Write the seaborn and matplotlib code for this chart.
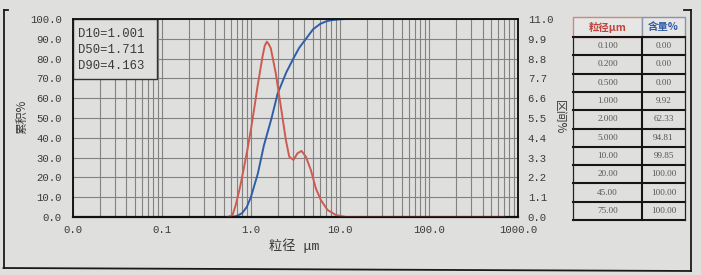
import numpy as np
import pandas as pd
import matplotlib
matplotlib.use("Agg")
import matplotlib.pyplot as plt
import seaborn as sns
from matplotlib.ticker import FixedLocator, LogLocator, NullFormatter, FixedFormatter
from matplotlib.lines import Line2D

# ---------------- data ----------------
cum_sizes = [0.04, 0.6, 0.7, 0.8, 0.9, 1.0, 1.2, 1.4, 1.711, 2.0, 2.5, 3.0, 3.5,
             4.163, 5.0, 6.0, 7.0, 8.0, 10.0, 12.0, 20.0, 700.0]
cum_pct = [0, 0, 0.5, 2.0, 5.0, 9.92, 22, 36, 50, 62.33, 73, 80, 85.5,
           90, 94.81, 97.5, 98.8, 99.4, 99.85, 100, 100, 100]

int_sizes = [0.55, 0.622, 0.678, 0.76, 0.841, 0.92, 1.0, 1.09, 1.188, 1.27, 1.352,
             1.43, 1.513, 1.59, 1.677, 1.907, 2.174, 2.474, 2.70, 3.01, 3.34, 3.71,
             4.15, 4.72, 5.37, 6.12, 7.27, 9.0, 11.7, 700.0]
int_pct = [0, 0.1, 0.67, 1.7, 2.79, 3.8, 4.83, 6.0, 7.24, 8.1, 8.9,
           9.5, 9.74, 9.6, 9.37, 7.98, 6.13, 4.28, 3.35, 3.17, 3.54, 3.67,
           3.35, 2.61, 1.59, 0.94, 0.39, 0.11, 0, 0]

x_ticks = [0.01, 0.1, 1, 10, 100, 1000]
x_labels = ["0.0", "0.1", "1.0", "10.0", "100.0", "1000.0"]
left_ticks = [0, 10, 20, 30, 40, 50, 60, 70, 80, 90, 100]
right_ticks = [0, 1.1, 2.2, 3.3, 4.4, 5.5, 6.6, 7.7, 8.8, 9.9, 11.0]

d_text = ["D10=1.001", "D50=1.711", "D90=4.163"]

table_sizes = ["0.100", "0.200", "0.500", "1.000", "2.000", "5.000",
               "10.00", "20.00", "45.00", "75.00"]
table_pct = ["0.00", "0.00", "0.00", "9.92", "62.33", "94.81",
             "99.85", "100.00", "100.00", "100.00"]
table_head = ["粒径μm", "含量%"]

# ---------------- style ----------------
BG = "#dfdfdd"
GRID = "#828282"
TXT = "#3a3a3a"
RED = "#cf5a50"
BLUE = "#2f5ea8"

plt.rcParams["font.family"] = ["Liberation Mono", "Noto Sans CJK SC", "DejaVu Sans"]

cum_df = pd.DataFrame({"size": cum_sizes, "pct": cum_pct})
int_df = pd.DataFrame({"size": int_sizes, "pct": int_pct})

fig = plt.figure(figsize=(7.01, 2.75), dpi=100, facecolor=BG)
W, H = 701, 275
L, R, B, T = 72.7, 518.0, 217.0, 19.0
ax = fig.add_axes([L / W, 1 - B / H, (R - L) / W, (B - T) / H])
ax.set_facecolor(BG)
ax2 = ax.twinx()

# cumulative (left axis)
sns.lineplot(data=cum_df, x="size", y="pct", ax=ax, color=BLUE, lw=1.4,
             estimator=None, sort=False)
# interval (right axis)
sns.lineplot(data=int_df, x="size", y="pct", ax=ax2, color=RED, lw=1.4,
             estimator=None, sort=False)

ax.set_xscale("log")
ax.set_xlim(0.01, 1000)
ax.set_ylim(0, 100)
ax2.set_ylim(0, 11)

ax.xaxis.set_major_locator(FixedLocator(x_ticks))
ax.xaxis.set_major_formatter(FixedFormatter(x_labels))
ax.xaxis.set_minor_locator(LogLocator(base=10, subs=np.arange(2, 10)))
ax.xaxis.set_minor_formatter(NullFormatter())
ax.yaxis.set_major_locator(FixedLocator(left_ticks))
ax.set_yticklabels([f"{v:.1f}" for v in left_ticks])
ax2.yaxis.set_major_locator(FixedLocator(right_ticks))
ax2.set_yticklabels([f"{v:.1f}" for v in right_ticks])

ax.grid(which="both", axis="x", color=GRID, lw=0.8)
ax.grid(which="major", axis="y", color=GRID, lw=0.8)
ax.set_axisbelow(True)

for a in (ax, ax2):
    a.tick_params(which="both", length=0, labelsize=7.7, colors=TXT)
    for s in a.spines.values():
        s.set_color("#111111")
        s.set_linewidth(1.1)
ax.tick_params(axis="x", pad=6)
ax.tick_params(axis="y", pad=8)
ax2.tick_params(axis="y", pad=7)
ax.spines["bottom"].set_linewidth(1.6)

ax.set_xlabel("粒径 μm", family=["Liberation Mono", "Noto Sans CJK SC"], fontsize=9.5, color=TXT)
ax.xaxis.set_label_coords(0.497, -0.11)
ax.set_ylabel("")
ax2.set_ylabel("")
fig.text(22 / W, 1 - 117 / H, "累积%", family=["Noto Sans CJK SC"], fontsize=8.5,
         color=TXT, rotation=90, ha="center", va="center")
fig.text(559 / W, 1 - 117 / H, "区间%", family=["Noto Sans CJK SC"], fontsize=8.5,
         color=TXT, rotation=270, ha="center", va="center")

# D-value box
ax.add_patch(plt.Rectangle((0, 0.697), 0.189, 0.303, transform=ax.transAxes,
                           fc=BG, ec="#333333", lw=1.0, zorder=9))
ax.text(0.012, 0.955, "\n".join(d_text), transform=ax.transAxes, fontsize=8.8,
        color=TXT, va="top", ha="left", linespacing=1.45, zorder=10)

# ---------------- overlay: table and frame ----------------
ov = fig.add_axes([0, 0, 1, 1], facecolor="none")
ov.set_xlim(0, W)
ov.set_ylim(H, 0)
ov.axis("off")

tl, tm, tr = 573.0, 642.0, 685.0
ttop, thead = 17.0, 37.0
rh = 18.3
nrows = len(table_sizes)
tbot = thead + rh * nrows

ov.add_patch(plt.Rectangle((tl, ttop), tm - tl, thead - ttop, fc="#e6e6e4", ec="#c98a84", lw=1.0))
ov.add_patch(plt.Rectangle((tm, ttop), tr - tm, thead - ttop, fc="#e6e6e4", ec="#8b93a8", lw=1.0))
ov.text((tl + tm) / 2, (ttop + thead) / 2, table_head[0], color="#c0443c", fontsize=7.5,
        ha="center", va="center", family=["Noto Sans CJK SC"], fontweight="bold")
ov.text((tm + tr) / 2, (ttop + thead) / 2, table_head[1], color="#2f5aa5", fontsize=7.5,
        ha="center", va="center", family=["Noto Sans CJK SC"], fontweight="bold")
for i, (s, p) in enumerate(zip(table_sizes, table_pct)):
    yc = thead + rh * (i + 0.5)
    ov.text((tl + tm) / 2, yc, s, fontsize=6.6, ha="center", va="center",
            color="#555555", family=["Liberation Serif"])
    ov.text((tm + tr) / 2, yc, p, fontsize=6.6, ha="center", va="center",
            color="#555555", family=["Liberation Serif"])
    ov.add_line(Line2D([tl, tr], [thead + rh * (i + 1)] * 2, color="#151515", lw=1.5))
ov.add_line(Line2D([tl, tr], [thead, thead], color="#151515", lw=1.5))
ov.add_line(Line2D([tl, tl], [thead, tbot], color="#222222", lw=0.9))
ov.add_line(Line2D([tr, tr], [thead, tbot], color="#222222", lw=0.9))
ov.add_line(Line2D([tm, tm], [thead, tbot], color="#151515", lw=1.5))

# outer frame
fc = "#1a1a1a"
ov.add_line(Line2D([3.5, 3.5], [10, 268], color=fc, lw=1.3))
ov.add_line(Line2D([3.5, 691], [268, 271], color=fc, lw=1.3))
ov.add_line(Line2D([691, 691], [10, 271], color=fc, lw=1.3))
ov.add_line(Line2D([3.5, 8], [10, 10], color=fc, lw=1.3))
ov.add_line(Line2D([684, 691], [10, 10], color=fc, lw=1.3))

fig.savefig("out.png", dpi=100, facecolor=BG)
